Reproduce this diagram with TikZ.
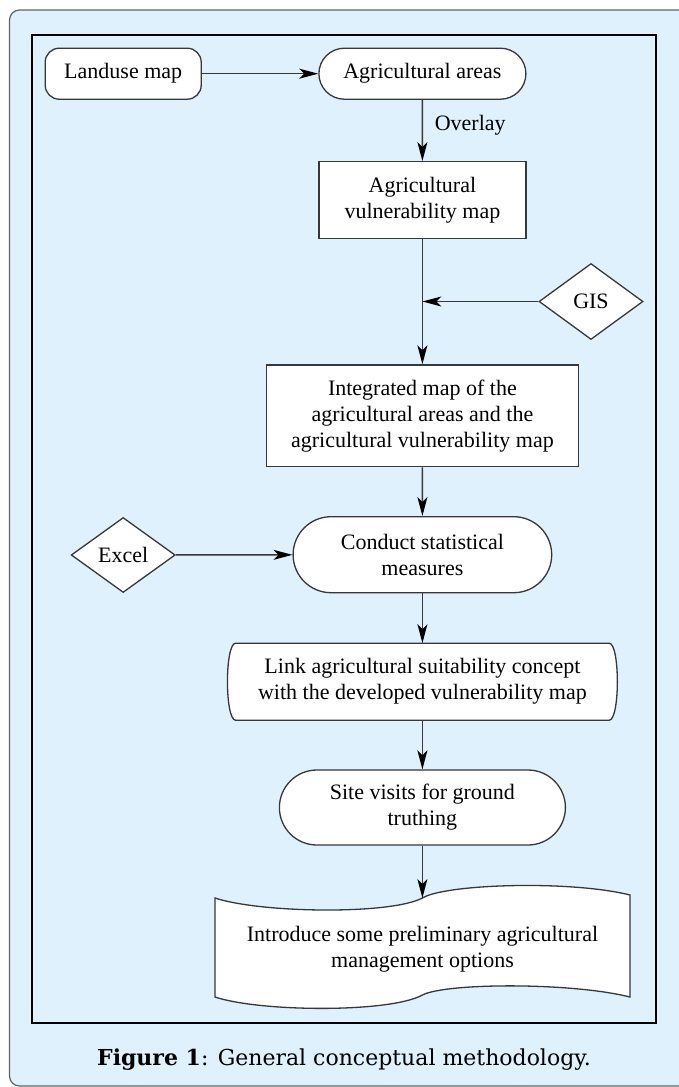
\documentclass[tikz,border=0pt]{standalone}
\usepackage{fontspec}
\setmainfont{Liberation Serif}
\newfontfamily\capfont{DejaVu Serif}
\usetikzlibrary{shapes.geometric,shapes.misc,arrows.meta}
\definecolor{bgblue}{RGB}{223,241,252}
\definecolor{bordergray}{RGB}{100,100,100}
\definecolor{linegray}{RGB}{55,55,60}
\tikzset{
  txt/.style={font=\fontsize{22}{26}\selectfont, align=center, inner sep=0pt},
  boxbase/.style={txt, draw=linegray, line width=1.3pt, fill=white},
  rbox/.style={boxbase, rectangle},
  pill/.style={boxbase, rounded rectangle},
  roundbox/.style={boxbase, rectangle, rounded corners=14pt},
  decision/.style={boxbase, diamond},
  ghost/.style={txt, draw=none},
  arr/.style={draw=linegray, line width=1.5pt, -{Stealth[length=19pt,width=10pt,inset=5pt,black]}},
}
\begin{document}
\begin{tikzpicture}[x=1pt,y=-1pt]
\useasboundingbox (0,0) rectangle (678,1087);
% outer panel
\path[fill=bgblue, draw=bordergray, line width=1.2pt, rounded corners=10pt]
  (9.5,10) rectangle (700,1086);
% inner frame
\draw[black, line width=2.2pt] (31.6,35) rectangle (656,1023.3);

% nodes
\node[roundbox, minimum width=156pt, minimum height=51pt] (landuse) at (123.2,73.7) {Landuse map};
\node[pill, minimum width=207pt, minimum height=51pt] (agri) at (422.4,73.7) {Agricultural areas};
\node[txt, anchor=west] (overlay) at (434.6,125) {Overlay};
\node[rbox, minimum width=207pt, minimum height=76.6pt] (vuln) at (422.4,200) {Agricultural\\vulnerability map};
\node[decision, minimum width=104pt, minimum height=76pt] (gis) at (591,301.5) {GIS};
\node[rbox, minimum width=312pt, minimum height=101.7pt] (integ) at (422.4,415.8) {Integrated map of the\\agricultural areas and the\\agricultural vulnerability map};
\node[decision, minimum width=104pt, minimum height=75pt] (excel) at (123.2,555) {Excel};
\node[pill, minimum width=258.6pt, minimum height=76pt] (conduct) at (422.4,554.7) {Conduct statistical\\measures};
\node[ghost, minimum width=389pt, minimum height=76.7pt] (link) at (422.4,681.7) {};
\node[pill, minimum width=286pt, minimum height=75pt] (site) at (422.4,807.5) {Site visits for ground\\truthing};
\node[ghost, minimum width=415pt, minimum height=90pt] (intro) at (422.5,949) {};

% link shape (bulging sides)
\path[fill=white, draw=linegray, line width=1.3pt]
  ([xshift=8pt]link.north west) -- ([xshift=-8pt]link.north east)
  .. controls ([xshift=3pt]link.north east) and ([xshift=3pt]link.south east) .. ([xshift=-8pt]link.south east)
  -- ([xshift=8pt]link.south west)
  .. controls ([xshift=-3pt]link.south west) and ([xshift=-3pt]link.north west) .. cycle;
\node[ghost] (linktext) at (link.center) {Link agricultural suitability concept\\with the developed vulnerability map};

% tape shape
\coordinate (introtop) at (422.4,898);
\path[fill=white, draw=linegray, line width=1.3pt]
  (215,898) .. controls (260,913) and (390,915) .. (introtop)
  .. controls (445,884) and (570,880) .. (630,895)
  -- (630,997)
  .. controls (570,982) and (445,983) .. (422.4,995)
  .. controls (390,1013) and (260,1012) .. (215,997) -- cycle;
\node[ghost] (introtext) at (intro.center) {Introduce some preliminary agricultural\\management options};

% connectors
\coordinate (join) at (vuln.south |- gis.west);
\draw[arr] (landuse) -- (agri);
\draw[arr] (agri) -- (vuln);
\draw[arr] (vuln) -- (integ);
\draw[arr] (gis) -- (join);
\draw[arr] (integ) -- (conduct);
\draw[arr] (excel) -- (conduct);
\draw[arr] (conduct.south) -- (link.north);
\draw[arr] (link.south) -- (site.north);
\draw[arr] (site.south) -- (introtop);

% caption
\node[inner sep=0pt, font=\capfont\fontsize{22}{26}\selectfont] (caption) at (344,1060) {\textbf{Figure 1}: General conceptual methodology.};
\end{tikzpicture}
\end{document}
